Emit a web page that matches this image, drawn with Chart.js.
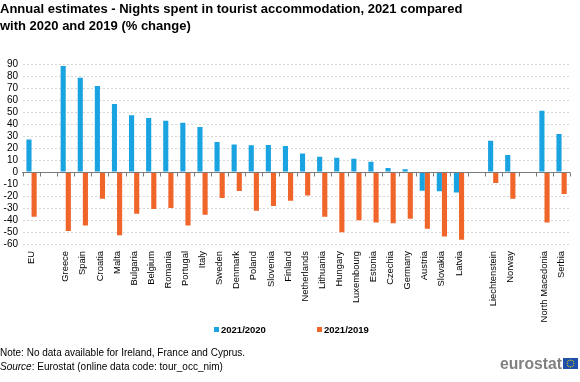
<!DOCTYPE html>
<html>
<head>
<meta charset="utf-8">
<script src="https://cdn.jsdelivr.net/npm/chart.js@4/dist/chart.umd.min.js"></script>
<style>
  html, body { margin: 0; padding: 0; background: #fff; }
  #wrap { position: relative; width: 580px; height: 382px; overflow: hidden; font-family: Arial, "Liberation Sans", sans-serif; }
  canvas { position: absolute; left: 0; top: 0; }
  .note { position: absolute; left: 0; font-size: 10px; color: #000; white-space: nowrap; }
  #logotext { position: absolute; left: 500px; top: 356px; line-height: 16px; font-size: 15.7px; font-weight: bold; color: #808080; white-space: nowrap; }
  #flag { position: absolute; left: 563px; top: 358px; }
</style>
</head>
<body>
<div id="wrap">
  <canvas id="c" width="580" height="382"></canvas>
  <div class="note" style="top:347px;">Note: No data available for Ireland, France and Cyprus.</div>
  <div class="note" style="top:361px;"><i>Source</i>: Eurostat (online data code: tour_occ_nim)</div>
  <div id="logotext">eurostat</div>
  <svg id="flag" width="15" height="11" viewBox="0 0 15 11">
    <rect width="15" height="11" fill="#1f4fa8"/>
    <g fill="#ffdd00" id="stars"></g>
  </svg>
</div>
<script>
// ---- data ----
const categories = ["EU","","Greece","Spain","Croatia","Malta","Bulgaria","Belgium","Romania","Portugal","Italy","Sweden","Denmark","Poland","Slovenia","Finland","Netherlands","Lithuania","Hungary","Luxembourg","Estonia","Czechia","Germany","Austria","Slovakia","Latvia","","Liechtenstein","Norway","","North Macedonia","Serbia"];
const change2021vs2020 = [27, null, 88.3, 78.6, 71.6, 56.6, 47.2, 45, 42.7, 41.1, 37.5, 25, 23, 22.2, 22.5, 21.7, 15.5, 12.8, 11.9, 11.1, 8.6, 3.3, 2.2, -15.6, -16.1, -17, null, 26.1, 14.2, null, 51.1, 31.7];
const change2021vs2019 = [-37.2, null, -49.2, -44.5, -22.3, -52.8, -34.7, -30.9, -30, -44.5, -35.6, -21.7, -15.8, -32.3, -28.3, -23.9, -19.5, -37.2, -50.3, -40.3, -42, -42.8, -38.9, -47.3, -53.7, -56.4, null, -9.2, -22.3, null, -42, -18.3];
const seriesLabels = ["2021/2020", "2021/2019"];
const yMin = -60, yMax = 90, yStep = 10;
const titleLines = ["Annual estimates - Nights spent in tourist accommodation, 2021 compared", "with 2020 and 2019 (% change)"];

// EU stars in logo
(function(){
  const g = document.getElementById('stars');
  let s = '';
  for (let i = 0; i < 12; i++) {
    const a = i * Math.PI / 6;
    s += '<circle cx="' + (7.5 + 3.4*Math.cos(a)).toFixed(2) + '" cy="' + (5.5 + 3.4*Math.sin(a)).toFixed(2) + '" r="0.55"/>';
  }
  g.innerHTML = s;
})();

const FONT = "Arial, 'Liberation Sans', sans-serif";
const BLUE = '#1aa3e1';
const ORANGE = '#f0652a';

const zeroLinePlugin = {
  id: 'zeroLine',
  afterDatasetsDraw(chart) {
    const { ctx, chartArea, scales } = chart;
    const y0 = Math.round(scales.y.getPixelForValue(0)) + 0.5;
    ctx.save();
    ctx.strokeStyle = '#7a7a7a';
    ctx.lineWidth = 1;
    ctx.beginPath();
    ctx.moveTo(chartArea.left - 1, y0);
    ctx.lineTo(chartArea.right, y0);
    const n = chart.data.labels.length;
    const w = (chartArea.right - chartArea.left) / n;
    for (let i = 0; i <= n; i++) {
      const x = Math.round(chartArea.left + i * w) + 0.5;
      ctx.moveTo(x, y0);
      ctx.lineTo(x, y0 + 4);
    }
    ctx.stroke();
    ctx.restore();
  }
};

const legendPlugin = {
  id: 'customLegend',
  afterDraw(chart) {
    const { ctx } = chart;
    ctx.save();
    ctx.font = 'bold 9.5px ' + FONT;
    ctx.textBaseline = 'middle';
    const y = 329.5;
    let x = 214;
    chart.data.datasets.forEach((ds, i) => {
      ctx.fillStyle = ds.backgroundColor;
      ctx.fillRect(x, y - 2.5, 5, 5);
      ctx.fillStyle = '#000';
      ctx.fillText(ds.label, x + 7, y + 0.5);
      x += 103;
    });
    ctx.restore();
  }
};

new Chart(document.getElementById('c'), {
  type: 'bar',
  data: {
    labels: categories,
    datasets: [
      { label: seriesLabels[0], data: change2021vs2020, backgroundColor: BLUE, categoryPercentage: 0.6, barPercentage: 1.0 },
      { label: seriesLabels[1], data: change2021vs2019, backgroundColor: ORANGE, categoryPercentage: 0.6, barPercentage: 1.0 }
    ]
  },
  options: {
    responsive: false,
    animation: false,
    devicePixelRatio: 1,
    layout: { padding: { left: 0, right: 9, top: 0, bottom: 56 } },
    plugins: {
      legend: { display: false },
      tooltip: { enabled: false },
      title: {
        display: true,
        text: titleLines,
        align: 'start',
        color: '#000',
        font: { family: FONT, size: 13, weight: 'bold', lineHeight: 1.3 },
        padding: { top: 1, bottom: 29.2 }
      }
    },
    scales: {
      x: {
        grid: { display: false, drawTicks: false },
        border: { display: false },
        ticks: {
          autoSkip: false,
          minRotation: 90,
          maxRotation: 90,
          padding: 7,
          color: '#000',
          font: { family: FONT, size: 9.4 }
        },
        afterFit(scale) { scale.height = 82; }
      },
      y: {
        min: yMin,
        max: yMax,
        ticks: {
          stepSize: yStep,
          autoSkip: false,
          padding: 5,
          color: '#000',
          font: { family: FONT, size: 10 }
        },
        grid: {
          drawTicks: false,
          color: (ctx) => (ctx.tick && ctx.tick.value === 0) ? 'rgba(0,0,0,0)' : '#d6d6d6',
          lineWidth: 1
        },
        border: { display: false, dash: [2, 2] },
        afterFit(scale) { scale.width = 23; }
      }
    }
  },
  plugins: [zeroLinePlugin, legendPlugin]
});
</script>
</body>
</html>
